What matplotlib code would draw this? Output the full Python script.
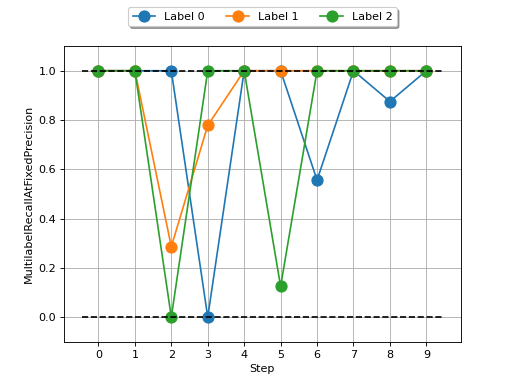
import matplotlib
matplotlib.use("Agg")
import matplotlib.pyplot as plt

steps = list(range(10))
label0 = [1.0, 1.0, 1.0, 0.0, 1.0, 1.0, 0.556, 1.0, 0.875, 1.0]
label1 = [1.0, 1.0, 0.286, 0.778, 1.0, 1.0, 1.0, 1.0, 1.0, 1.0]
label2 = [1.0, 1.0, 0.0, 1.0, 1.0, 0.125, 1.0, 1.0, 1.0, 1.0]
series = [("Label 0", label0), ("Label 1", label1), ("Label 2", label2)]
bounds = [0.0, 1.0]
line_x = [-0.45, 9.45]

fig, ax = plt.subplots(figsize=(6.4, 4.8), dpi=80)
for name, vals in series:
    ax.plot(steps, vals, marker="o", markersize=10, label=name)
# dashed reference lines sit on top of the markers
for b in bounds:
    ax.plot(line_x, [b, b], "k--")

ax.set_ylim(-0.1, 1.1)
ax.set_xticks(steps)
ax.set_xlabel("Step")
ax.set_ylabel("MultilabelRecallAtFixedPrecision")
ax.grid(True)
ax.legend(loc="upper center", bbox_to_anchor=(0.5, 1.15), ncol=3,
          fancybox=True, shadow=True)

plt.savefig("out.png", dpi=80)
plt.close()
